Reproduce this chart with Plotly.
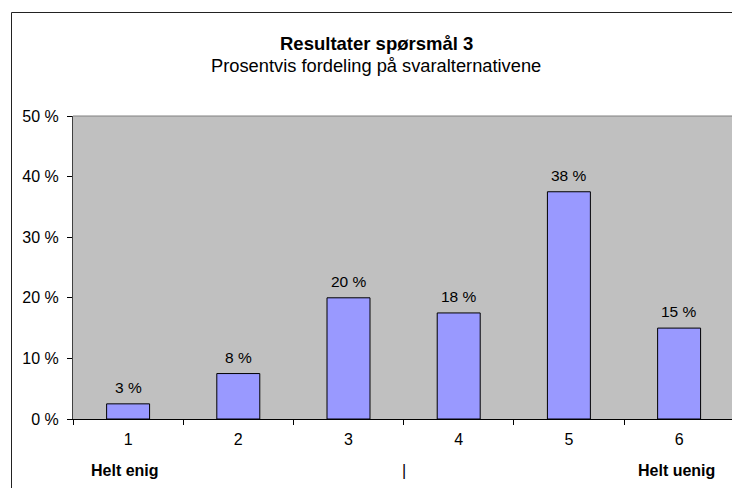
import plotly.graph_objects as go

categories = ["1", "2", "3", "4", "5", "6"]
values = [2.5, 7.5, 20.0, 17.5, 37.5, 15.0]
value_labels = ["3 %", "8 %", "20 %", "18 %", "38 %", "15 %"]
y_ticks = [0, 10, 20, 30, 40, 50]
scale_labels = ["Helt enig", "|", "Helt uenig"]
scale_positions = [-0.03, 2.5, 4.98]

title = "Resultater spørsmål 3"
subtitle = "Prosentvis fordeling på svaralternativene"

W, H = 732, 488
L, T, B, R = 73, 116, 69, 0
plot_h = H - T - B
plot_w = W - L - R
FONT = "Liberation Sans, Arial"

def py(px):
    return (H - B - px) / plot_h

def px_x(px):
    return (px - L) / plot_w

fig = go.Figure()
fig.add_trace(go.Bar(
    x=categories, y=values,
    marker=dict(color="#9999FF", line=dict(color="black", width=1)),
    width=0.39, cliponaxis=False, hoverinfo="skip",
))

annotations = [
    dict(text="<b>%s</b>" % title, x=px_x(376), y=py(43),
         xref="paper", yref="paper", showarrow=False, xanchor="center", yanchor="middle",
         font=dict(family=FONT, size=18.5, color="black")),
    dict(text=subtitle, x=px_x(376), y=py(65),
         xref="paper", yref="paper", showarrow=False, xanchor="center", yanchor="middle",
         font=dict(family=FONT, size=18.3, color="black")),
]
for i, (val, lab) in enumerate(zip(values, value_labels)):
    annotations.append(dict(
        text=lab, x=i, y=val, xref="x", yref="y", showarrow=False,
        xanchor="center", yanchor="bottom", yshift=6,
        font=dict(family=FONT, size=15.5, color="black")))
for lab, pos in zip(scale_labels, scale_positions):
    annotations.append(dict(
        text="<b>%s</b>" % lab if lab != "|" else lab, x=pos, y=py(470),
        xref="x", yref="paper", showarrow=False, xanchor="center", yanchor="middle",
        font=dict(family=FONT, size=16, color="black")))

fig.update_layout(
    width=W, height=H,
    margin=dict(l=L, r=R, t=T, b=B, pad=0),
    paper_bgcolor="white", plot_bgcolor="#C0C0C0",
    showlegend=False,
    annotations=annotations,
    font=dict(family=FONT, size=16, color="black"),
    shapes=[
        dict(type="rect", xref="paper", yref="paper",
             x0=px_x(11.5), x1=px_x(780), y0=py(540), y1=py(12.5),
             line=dict(color="#222222", width=1), fillcolor="rgba(0,0,0,0)", layer="above"),
        dict(type="line", xref="paper", yref="paper",
             x0=0, x1=1, y0=1, y1=1, line=dict(color="#808080", width=1)),
    ],
    xaxis=dict(
        type="category", range=[-0.5, 5.48],
        tickson="boundaries", ticks="outside", ticklen=5, tickcolor="black",
        ticklabelstandoff=6,
        showline=True, linecolor="black", linewidth=1, showgrid=False,
        tickfont=dict(size=16, color="black"),
    ),
    yaxis=dict(
        range=[0, 50], tickvals=y_ticks, ticktext=["%d %%" % v for v in y_ticks],
        ticks="outside", ticklen=5, tickcolor="black",
        ticklabelstandoff=5,
        showline=True, linecolor="#404040", linewidth=1, showgrid=False, zeroline=False,
        tickfont=dict(size=16, color="black"),
    ),
)

fig.write_html(
    "out.html",
    config={"displayModeBar": False},
    post_script="document.body.style.margin='0';document.body.style.overflow='hidden';",
)
